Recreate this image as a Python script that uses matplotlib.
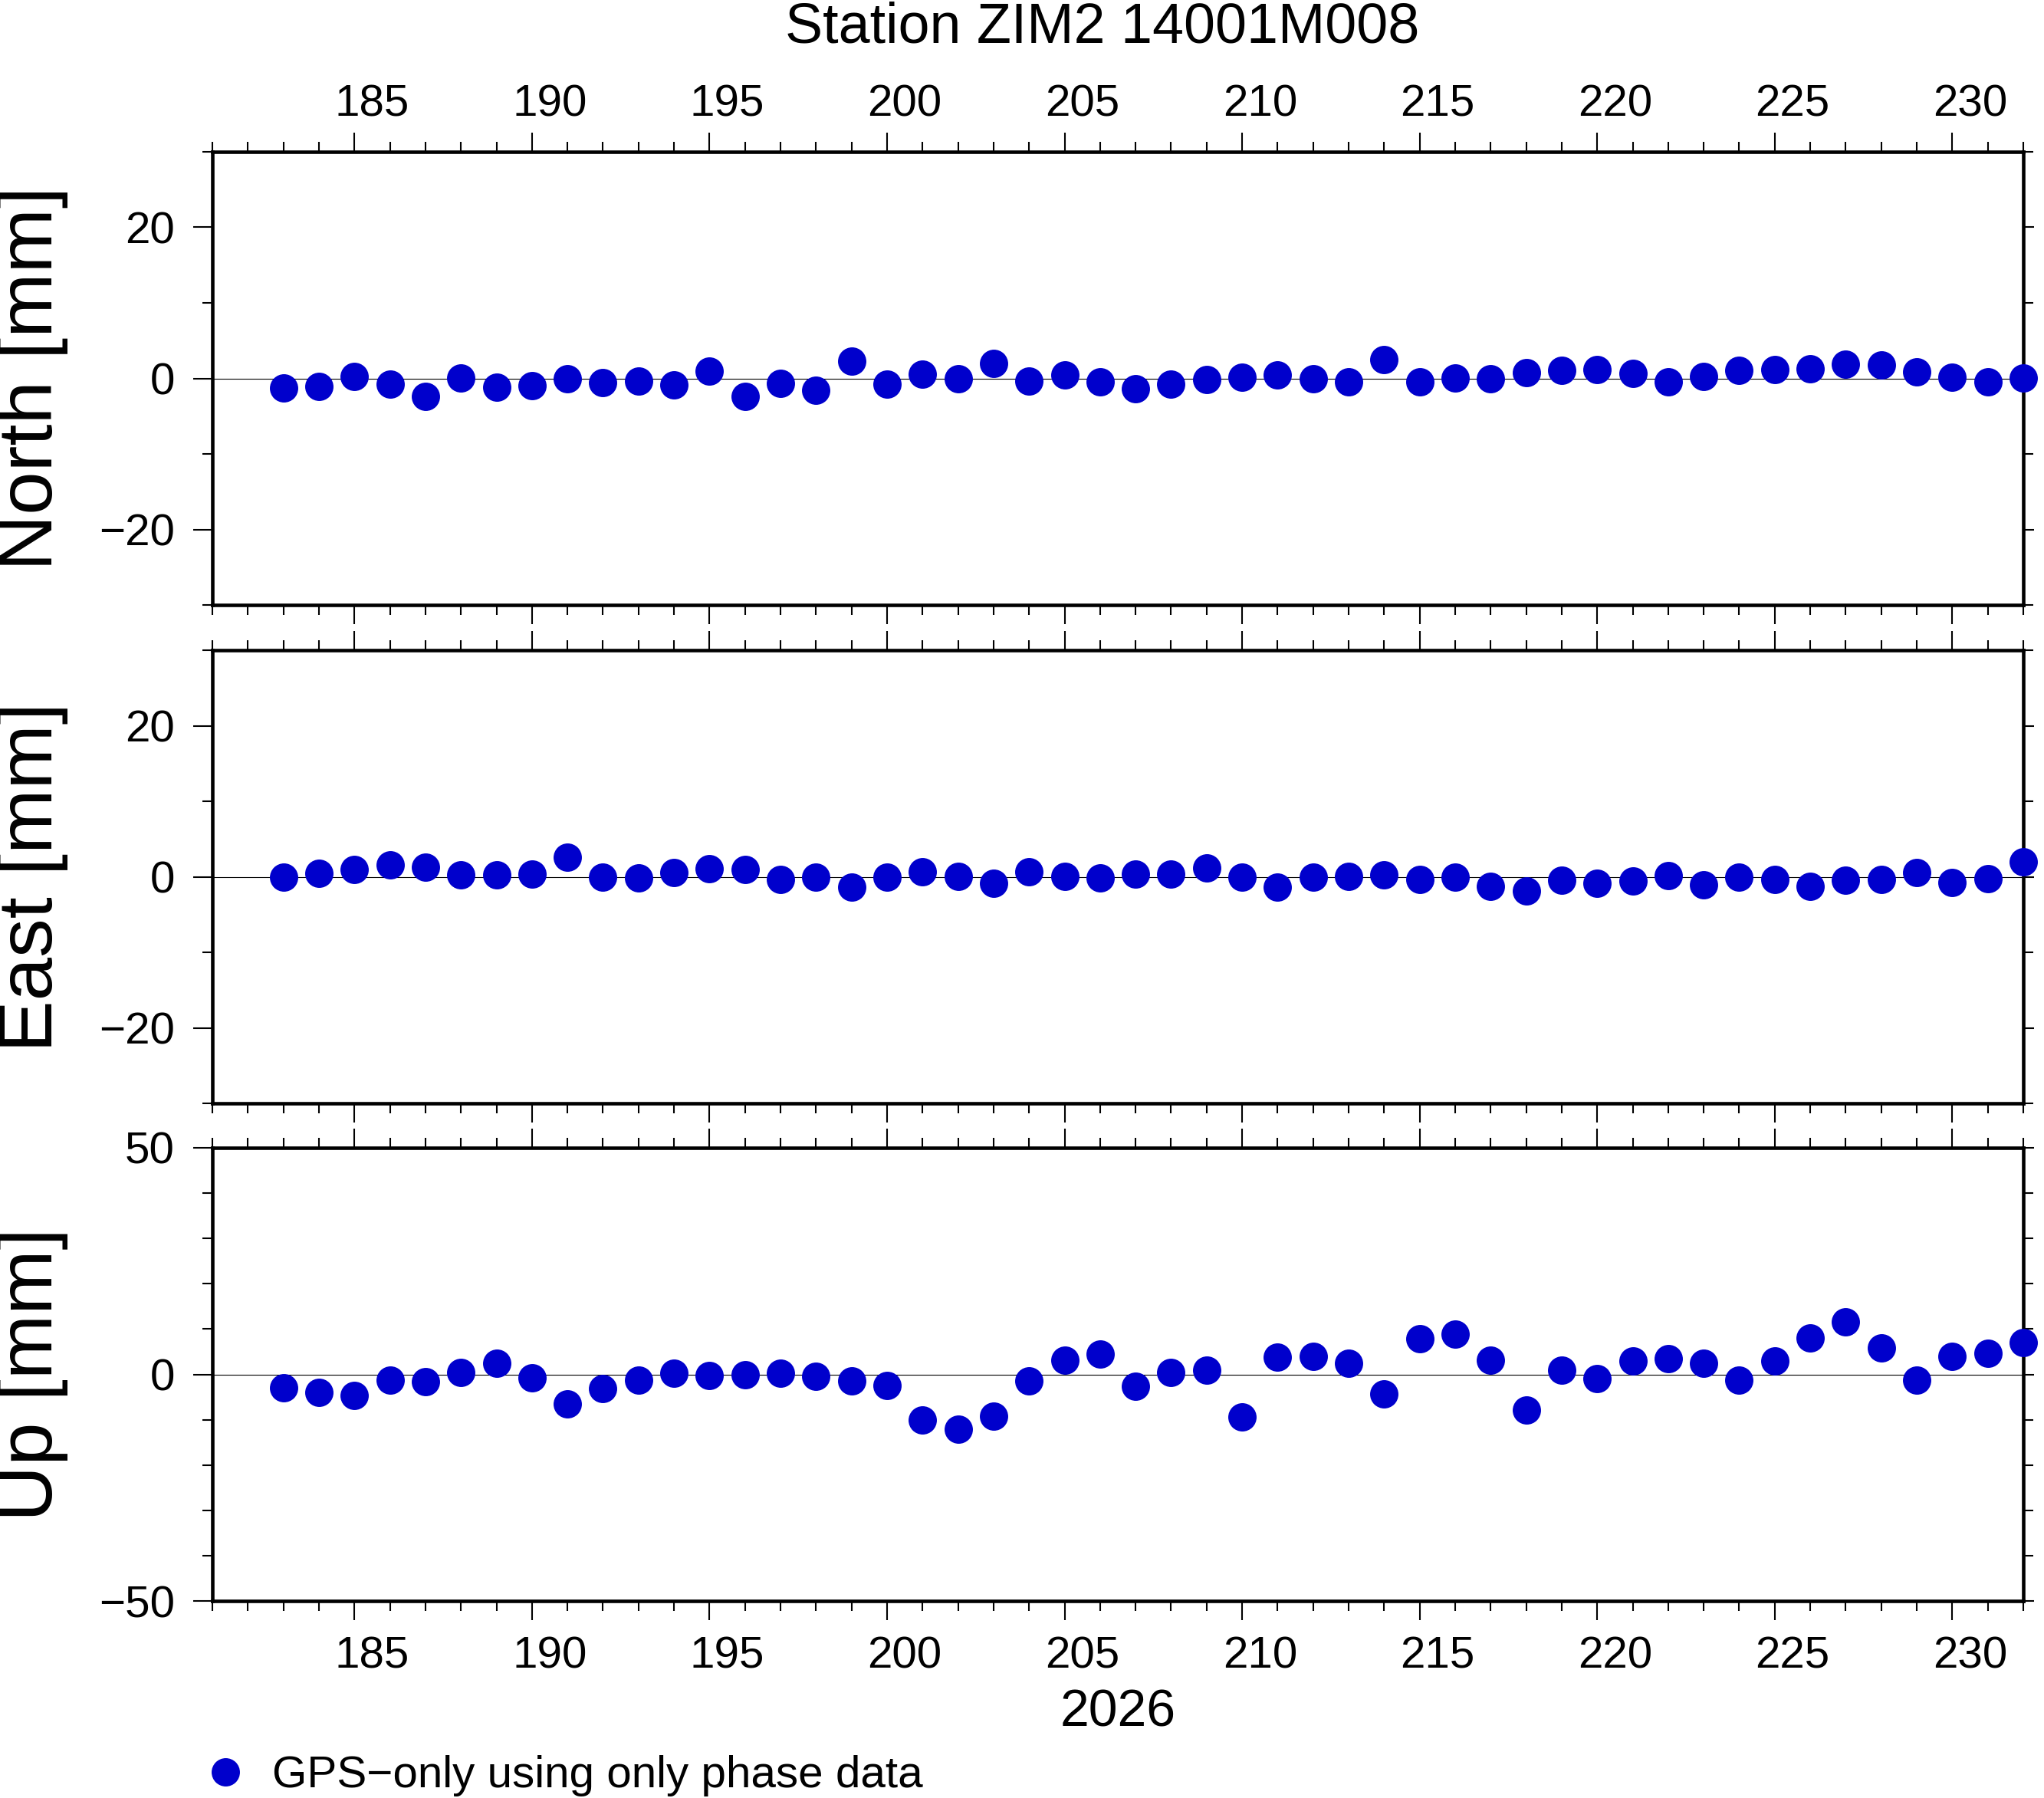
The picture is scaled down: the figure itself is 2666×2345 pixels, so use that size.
import numpy as np
import matplotlib
matplotlib.use('Agg')
import matplotlib.pyplot as plt
import matplotlib.transforms as mtransforms
from matplotlib.ticker import FixedLocator, MultipleLocator

plt.rcParams['font.family'] = ['Liberation Sans', 'DejaVu Sans']

# day of year 2026
days = np.arange(183, 233)

north = [-1.25, -1.1, 0.3, -0.8, -2.4, 0.1, -1.2, -1.0, 0.0, -0.6,
         -0.4, -0.9, 1.0, -2.4, -0.7, -1.6, 2.3, -0.8, 0.6, -0.1,
         2.0, -0.4, 0.5, -0.5, -1.4, -0.8, -0.2, 0.2, 0.5, -0.1,
         -0.5, 2.5, -0.5, 0.1, -0.1, 0.8, 1.1, 1.2, 0.7, -0.5,
         0.3, 1.1, 1.2, 1.3, 1.9, 1.8, 0.9, 0.2, -0.5, 0.1]

east = [-0.1, 0.5, 1.0, 1.6, 1.3, 0.3, 0.3, 0.4, 2.6, 0.0,
        -0.2, 0.6, 1.1, 1.0, -0.4, -0.1, -1.4, -0.1, 0.7, 0.1,
        -0.9, 0.7, 0.1, -0.2, 0.4, 0.4, 1.2, -0.1, -1.4, 0.0,
        0.1, 0.3, -0.4, -0.1, -1.3, -1.9, -0.5, -0.9, -0.6, 0.2,
        -1.1, -0.1, -0.4, -1.3, -0.5, -0.4, 0.6, -0.8, -0.3, 2.0]

up = [-3.0, -4.0, -4.7, -1.3, -1.6, 0.4, 2.5, -0.8, -6.5, -3.2,
      -1.3, 0.2, -0.2, 0.0, 0.3, -0.5, -1.5, -2.5, -10.1, -12.1,
      -9.2, -1.5, 3.2, 4.5, -2.6, 0.5, 1.0, -9.4, 3.8, 4.0,
      2.5, -4.3, 7.8, 8.8, 3.2, -7.9, 1.0, -1.0, 3.0, 3.4,
      2.4, -1.3, 2.9, 8.1, 11.6, 5.9, -1.2, 4.0, 4.7, 7.1]

components = ['North [mm]', 'East [mm]', 'Up [mm]']
series = [north, east, up]
ylims = [(-30, 30), (-30, 30), (-50, 50)]
ymajor = [20, 20, 50]

W, H = 2666, 2345
fig = plt.figure(figsize=(W / 100, H / 100), dpi=100)

blue = '#0000cc'
ax_left, ax_w, ax_h = 277, 2362, 591
ax_tops = [198, 848, 1497]

axes = []
for i in range(3):
    top = ax_tops[i]
    ax = fig.add_axes([ax_left / W, 1 - (top + ax_h) / H, ax_w / W, ax_h / H])
    axes.append(ax)

    ax.axhline(0, color='black', lw=0.8, zorder=1)
    line, = ax.plot(days, series[i], 'o', color=blue, ms=26.6, mec='none',
                    clip_on=False, zorder=5)

    ax.set_xlim(181, 232)
    ax.set_ylim(*ylims[i])
    ax.xaxis.set_major_locator(FixedLocator(range(185, 231, 5)))
    ax.xaxis.set_minor_locator(MultipleLocator(1))
    ax.yaxis.set_major_locator(MultipleLocator(ymajor[i]))
    ax.yaxis.set_minor_locator(MultipleLocator(10))

    for s in ax.spines.values():
        s.set_linewidth(3.3)

    ax.tick_params(which='both', direction='out', top=True, bottom=True,
                   left=True, right=True, width=1.5, labelsize=42)
    ax.tick_params(which='major', length=18)
    ax.tick_params(which='minor', length=9.4)
    ax.tick_params(axis='x', pad=15, labelbottom=(i == 2), labeltop=(i == 0))
    ax.tick_params(axis='y', pad=17.5)

    ax.set_ylabel(components[i], fontsize=73)
    ax.yaxis.set_label_coords((42 - ax_left) / ax_w, 0.5)
    ax.yaxis.label.set_va('center')

    # GMT style: day labels sit in the middle of the day interval
    half_day = 0.5 * ax_w / 51 / 100
    off_bottom = mtransforms.ScaledTranslation(half_day, 0, fig.dpi_scale_trans)
    off_top = mtransforms.ScaledTranslation(half_day, -0.11, fig.dpi_scale_trans)
    for t in ax.xaxis.get_major_ticks():
        t.label1.set_transform(t.label1.get_transform() + off_bottom)
        t.label2.set_transform(t.label2.get_transform() + off_top)
    # right hand ticks are all short
    for t in ax.yaxis.get_major_ticks():
        t.tick2line.set_markersize(10)

axes[2].set_xlabel('2026', fontsize=49)
axes[2].xaxis.set_label_coords(0.5, -(2252 - 2088) / ax_h)
axes[2].xaxis.label.set_va('baseline')

fig.text(1438 / W, 1 - 55 / H, 'Station ZIM2 14001M008', ha='center',
         va='baseline', fontsize=53)

fig.legend(handles=[line], labels=['GPS\u2212only using only phase data'],
           loc='center left', bbox_to_anchor=(265 / W, 1 - 2316 / H),
           frameon=False, fontsize=42, handlelength=1.0, handletextpad=0.54,
           borderpad=0, borderaxespad=0, numpoints=1)

fig.savefig('out.png', dpi=100)
